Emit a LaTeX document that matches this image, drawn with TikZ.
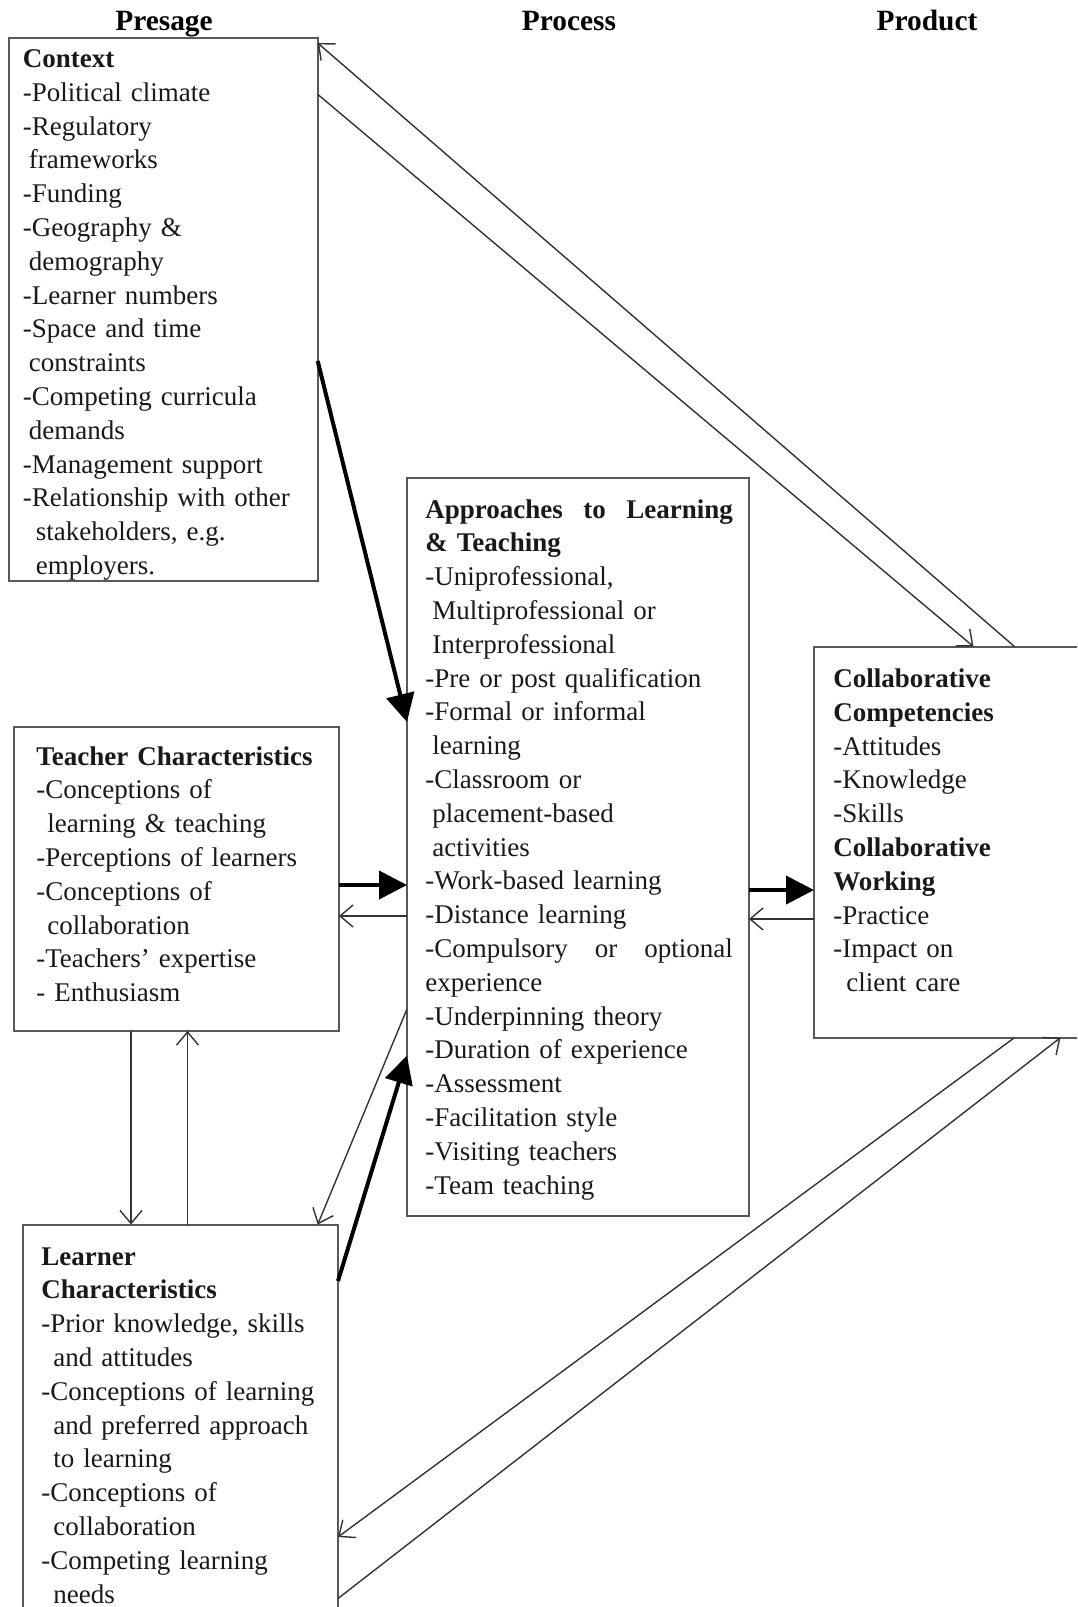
\documentclass[tikz,border=0pt]{standalone}
\usepackage{fontspec}
\setmainfont{Liberation Serif}
\usetikzlibrary{arrows.meta}
\tikzset{box/.style={
    draw=black!65, line width=1pt, rectangle,
    inner sep=0pt, outer sep=0pt, anchor=north west
  },
  boxtext/.style={
    anchor=base west, inner sep=0pt, align=left, text width=165pt,
    font=\fontsize{13.5}{16.9}\selectfont, text=black!90
  },
  heading/.style={
    anchor=base, inner sep=0pt, font=\fontsize{14.7}{17}\selectfont\bfseries
  },
  link/.style={
    draw=black!80, line width=0.7pt,
    -{Straight Barb[length=6.5pt,width=11pt]}
  },
  mainlink/.style={
    draw=black, line width=2pt,
    -{Triangle[length=14pt,width=14pt]}
  }
}

\begin{document}
\begin{tikzpicture}[x=0.5pt,y=-0.5pt]
    \useasboundingbox (0,0) rectangle (1077,1607);
    \clip (0,0) rectangle (1077,1607);

    \node[heading] (presage) at (164,30) {Presage};
    \node[heading] (process) at (569,30) {Process};
    \node[heading] (product) at (927,30) {Product};

    % boxes
    \node[box, minimum width=154.25pt, minimum height=271.5pt] (context) at (9.2,37.9) {};
    \node[box, minimum width=171pt, minimum height=369.25pt] (approach) at (407,477.5) {};
    \node[box, minimum width=162.35pt, minimum height=152.25pt] (teacher) at (14.3,726.5) {};
    \node[box, minimum width=143pt, minimum height=195.5pt] (collab) at (814,646.6) {};
    \node[box, minimum width=157.75pt, minimum height=217.75pt] (learner) at (22.5,1224.5) {};

    \node[boxtext] (contexttext) at (22.5,67.4) {\textbf{Context}\\
      -Political climate\\
      -Regulatory\\
      \hspace*{3pt}frameworks\\
      -Funding\\
      -Geography \&\\
      \hspace*{3pt}demography\\
      -Learner numbers\\
      -Space and time\\
      \hspace*{3pt}constraints\\
      -Competing curricula\\
      \hspace*{3pt}demands\\
      -Management support\\
      -Relationship with other\\
      \hspace*{6.5pt}stakeholders, e.g.\\
      \hspace*{6.5pt}employers.};

    \node[boxtext] (approachtext) at (425,518) {\makebox[153.7pt][s]{\textbf{Approaches}\hfill\textbf{to}\hfill\textbf{Learning}}\\
      \textbf{\& Teaching}\\
      -Uniprofessional,\\
      \hspace*{3.5pt}Multiprofessional or\\
      \hspace*{3.5pt}Interprofessional\\
      -Pre or post qualification\\
      -Formal or informal\\
      \hspace*{3.5pt}learning\\
      -Classroom or\\
      \hspace*{3.5pt}placement-based\\
      \hspace*{3.5pt}activities\\
      -Work-based learning\\
      -Distance learning\\
      \makebox[153.7pt][s]{-Compulsory\hfill or\hfill optional}\\
      experience\\
      -Underpinning theory\\
      -Duration of experience\\
      -Assessment\\
      -Facilitation style\\
      -Visiting teachers\\
      -Team teaching};

    \node[boxtext] (teachertext) at (35.9,765) {\textbf{Teacher Characteristics}\\
      -Conceptions of\\
      \hspace*{5.5pt}learning \& teaching\\
      -Perceptions of learners\\
      -Conceptions of\\
      \hspace*{5.5pt}collaboration\\
      -Teachers’ expertise\\
      - Enthusiasm};

    \node[boxtext] (collabtext) at (833,687.4) {\textbf{Collaborative}\\
      \textbf{Competencies}\\
      -Attitudes\\
      -Knowledge\\
      -Skills\\
      \textbf{Collaborative}\\
      \textbf{Working}\\
      -Practice\\
      -Impact on\\
      \hspace*{6.5pt}client care};

    \node[boxtext] (learnertext) at (41,1265) {\textbf{Learner}\\
      \textbf{Characteristics}\\
      -Prior knowledge, skills\\
      \hspace*{6pt}and attitudes\\
      -Conceptions of learning\\
      \hspace*{6pt}and preferred approach\\
      \hspace*{6pt}to learning\\
      -Conceptions of\\
      \hspace*{6pt}collaboration\\
      -Competing learning\\
      \hspace*{6pt}needs};

    % connectors
    \draw[mainlink] (context.east |- 0,361) -- (approach.west |- 0,722);
    \draw[link] (collab.north -| 1014.5,0) -- (context.east |- 0,43);
    \draw[link] (context.east |- 0,94.3) -- (collab.north -| 973.5,0);

    \draw[mainlink] (teacher.east |- 0,885) -- (approach.west |- 0,885);
    \draw[link] (approach.west |- 0,916) -- (teacher.east |- 0,916);
    \draw[mainlink] (approach.east |- 0,890) -- (collab.west |- 0,890);
    \draw[link] (collab.west |- 0,919) -- (approach.east |- 0,919);

    \draw[link] (teacher.south -| 131,0) -- (learner.north -| 131,0);
    \draw[link] (learner.north -| 187.5,0) -- (teacher.south -| 187.5,0);

    \draw[link] (approach.west |- 0,1009) -- (learner.north -| 317.7,0);
    \draw[mainlink] (learner.east |- 0,1281) -- (approach.west |- 0,1055.5);

    \draw[link] (collab.south -| 1014.5,0) -- (learner.east |- 0,1537);
    \draw[link] (learner.east |- 0,1598.5) -- (collab.south -| 1060.5,0);
\end{tikzpicture}
\end{document}
